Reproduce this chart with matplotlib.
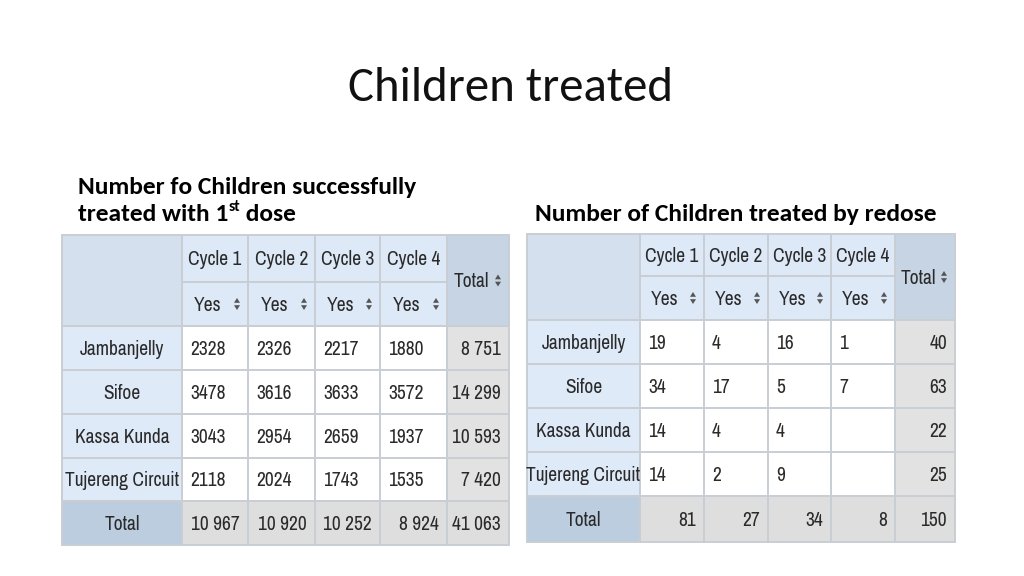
import matplotlib
matplotlib.use("Agg")
import matplotlib.pyplot as plt
from matplotlib.patches import Rectangle, Polygon

# ---------------- data ----------------
title = "Children treated"
sub_left_1 = "Number fo Children successfully"
sub_left_2 = "treated with 1"
sub_right = "Number of Children treated by redose"

regions = ["Jambanjelly", "Sifoe", "Kassa Kunda", "Tujereng Circuit"]
cycles = ["Cycle 1", "Cycle 2", "Cycle 3", "Cycle 4"]

first_dose = [
    [2328, 2326, 2217, 1880],
    [3478, 3616, 3633, 3572],
    [3043, 2954, 2659, 1937],
    [2118, 2024, 1743, 1535],
]
first_dose_row_totals = [8751, 14299, 10593, 7420]
first_dose_col_totals = [10967, 10920, 10252, 8924]
first_dose_grand = 41063

redose = [
    [19, 4, 16, 1],
    [34, 17, 5, 7],
    [14, 4, 4, None],
    [14, 2, 9, None],
]
redose_row_totals = [40, 63, 22, 25]
redose_col_totals = [81, 27, 34, 8]
redose_grand = 150

# ---------------- style ----------------
TFONT = ["Archivo Narrow", "DejaVu Sans"]
SFONT = ["Carlito", "DejaVu Sans"]
TXT = "#2a2a2a"
C_HEAD = "#dde9f7"
C_CORNER = "#d4e0ee"
C_ROWLAB = "#dfeaf8"
C_TOTHEAD = "#c6d4e4"
C_TOTLAB = "#bccde0"
C_TOTROW = "#dedede"
C_TOTCOL = "#e2e2e2"
C_BODY = "#ffffff"
C_EDGE = "#c9ced4"

fig = plt.figure(figsize=(10.24, 5.76), dpi=100)
ax = fig.add_axes([0, 0, 1, 1])
ax.set_xlim(0, 1024)
ax.set_ylim(576, 0)
ax.axis("off")
fig.patch.set_facecolor("white")
renderer = fig.canvas.get_renderer()


def fmt_total(v):
    return f"{v:,}".replace(",", " ")


def fmt_body(v):
    return "" if v is None else str(v)


def cell(x0, x1, y0, y1, color):
    ax.add_patch(Rectangle((x0, y0), x1 - x0, y1 - y0, facecolor=color,
                           edgecolor=C_EDGE, linewidth=1.4, zorder=1))


def sort_icon(x, y):
    w = 3.0
    ax.add_patch(Polygon([(x - w, y - 1.2), (x + w, y - 1.2), (x, y - 6.0)],
                         closed=True, facecolor="#555555", edgecolor="none", zorder=3))
    ax.add_patch(Polygon([(x - w, y + 1.2), (x + w, y + 1.2), (x, y + 6.0)],
                         closed=True, facecolor="#555555", edgecolor="none", zorder=3))


FS = 14
CAP = 0.70 * FS * 100 / 72


def ttext(x, yc, s, ha):
    ax.text(x, yc + CAP / 2, s, ha=ha, va="baseline", fontsize=FS,
            family=TFONT, color=TXT, zorder=4)


def draw_table(xe, ye, vals, rtot, ctot, grand):
    cell(xe[0], xe[1], ye[0], ye[2], C_CORNER)
    for j, c in enumerate(cycles):
        cell(xe[j + 1], xe[j + 2], ye[0], ye[1], C_HEAD)
        ttext((xe[j + 1] + xe[j + 2]) / 2, (ye[0] + ye[1]) / 2, c, "center")
        cell(xe[j + 1], xe[j + 2], ye[1], ye[2], C_HEAD)
        cx = (xe[j + 1] + xe[j + 2]) / 2 - 7
        ttext(cx, (ye[1] + ye[2]) / 2, "Yes", "center")
        sort_icon(xe[j + 2] - 11, (ye[1] + ye[2]) / 2)
    cell(xe[5], xe[6], ye[0], ye[2], C_TOTHEAD)
    ttext((xe[5] + xe[6]) / 2 - 7, (ye[0] + ye[2]) / 2, "Total", "center")
    sort_icon(xe[6] - 11, (ye[0] + ye[2]) / 2)
    for i, r in enumerate(regions):
        y0, y1 = ye[i + 2], ye[i + 3]
        yc = (y0 + y1) / 2
        cell(xe[0], xe[1], y0, y1, C_ROWLAB)
        ttext((xe[0] + xe[1]) / 2, yc, r, "center")
        for j in range(4):
            cell(xe[j + 1], xe[j + 2], y0, y1, C_BODY)
            ttext(xe[j + 1] + 8, yc, fmt_body(vals[i][j]), "left")
        cell(xe[5], xe[6], y0, y1, C_TOTCOL)
        ttext(xe[6] - 8, yc, fmt_total(rtot[i]), "right")
    y0, y1 = ye[6], ye[7]
    yc = (y0 + y1) / 2
    cell(xe[0], xe[1], y0, y1, C_TOTLAB)
    ttext((xe[0] + xe[1]) / 2, yc, "Total", "center")
    for j in range(4):
        cell(xe[j + 1], xe[j + 2], y0, y1, C_TOTROW)
        ttext(xe[j + 2] - 8, yc, fmt_total(ctot[j]), "right")
    cell(xe[5], xe[6], y0, y1, C_TOTROW)
    ttext(xe[6] - 8, yc, fmt_total(grand), "right")


left_x = [62, 182, 248, 315, 380, 447, 509]
left_y = [235, 282, 326, 370, 414, 458, 501, 545]
right_x = [527, 640, 704, 768, 831, 895, 955]
right_y = [234, 276, 320, 364, 408, 452, 496, 542]

draw_table(left_x, left_y, first_dose, first_dose_row_totals,
           first_dose_col_totals, first_dose_grand)
draw_table(right_x, right_y, redose, redose_row_totals,
           redose_col_totals, redose_grand)


def fit(t, width):
    w = t.get_window_extent(renderer).width
    t.set_fontsize(t.get_fontsize() * width / w)


t = ax.text(510, 101, title, ha="center", va="baseline", fontsize=30,
            family=SFONT, color="#111111")
fit(t, 325)

s1 = ax.text(78, 194, sub_left_1, ha="left", va="baseline", fontsize=14,
             family=SFONT, weight="bold", color="#000000")
fit(s1, 340)
fs = s1.get_fontsize()
s2 = ax.text(78, 221, sub_left_2, ha="left", va="baseline", fontsize=fs,
             family=SFONT, weight="bold", color="#000000")
bb = s2.get_window_extent(renderer)
s3 = ax.text(bb.x1 + 0.5, 221 - fs * 0.55, "st", ha="left", va="baseline",
             fontsize=fs * 0.62, family=SFONT, weight="bold", color="#000000")
bb3 = s3.get_window_extent(renderer)
ax.text(bb3.x1, 221, " dose", ha="left", va="baseline", fontsize=fs,
        family=SFONT, weight="bold", color="#000000")
s4 = ax.text(535, 221, sub_right, ha="left", va="baseline", fontsize=fs,
             family=SFONT, weight="bold", color="#000000")
fit(s4, 402)

fig.savefig("out.png", dpi=100, facecolor="white")
